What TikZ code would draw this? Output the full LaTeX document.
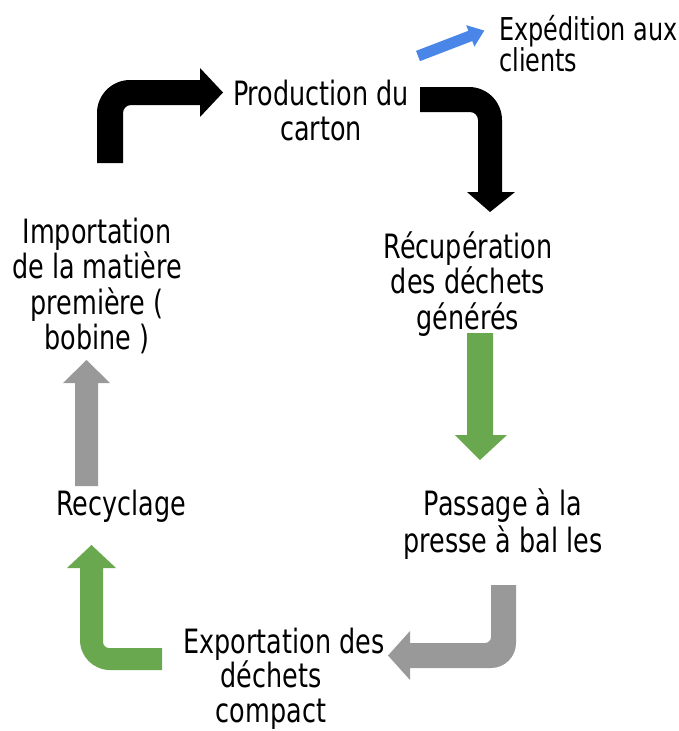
\documentclass[tikz,border=0pt]{standalone}
\usepackage{fontspec}
\setmainfont[FakeStretch=0.76]{DejaVu Sans}
\begin{document}
\begin{tikzpicture}[x=1pt,y=-1pt,
  lbl/.style={inner sep=0pt,anchor=north,align=center,
    font=\fontsize{33.5}{35.5}\selectfont},
  blackarrow/.style={fill=black},
  greenarrow/.style={fill=arrowgreen},
  greyarrow/.style={fill=arrowgrey},
  bluearrow/.style={fill=arrowblue}]
\definecolor{arrowgreen}{HTML}{6AA84F}
\definecolor{arrowgrey}{HTML}{999999}
\definecolor{arrowblue}{HTML}{4A86E8}
\newcommand{\firstline}{\rule{0pt}{28pt}}
\useasboundingbox (0,0) rectangle (678,731);

% labels of the cycle
\node[lbl] (prod) at (321,77) {\firstline Production du\\carton};
\node[lbl,anchor=north west,align=left,font=\fontsize{31.5}{29.5}\selectfont]
  (exped) at (499,12) {\firstline Expédition aux\\clients};
\node[lbl] (recup) at (468,230) {\firstline Récupération\\des déchets\\générés};
\node[lbl,font=\fontsize{33.5}{37}\selectfont] (presse) at (503,487) {\firstline Passage à la\\presse à bal les};
\node[lbl,font=\fontsize{33.5}{34.5}\selectfont] (export) at (271,625) {\firstline\hspace*{26pt}Exportation des\\déchets\\compact};
\node[lbl] (recyc) at (121,487) {\firstline Recyclage};
\node[lbl] (import) at (97,215) {\firstline Importation\\de la matière\\première (\\bobine )};

% bent arrow: raw material -> production
\fill[blackarrow] (97,163) -- (97,113) .. controls (97,94.8) and (111.8,80) .. (130,80)
  -- (200,80) -- (200,68) -- (223,92.5) -- (200,117) -- (200,105) -- (131,105)
  .. controls (126.6,105) and (123,108.6) .. (123,113) -- (123,163) -- cycle;

% bent arrow: production -> waste recovery
\fill[blackarrow] (420,87) -- (469,87) .. controls (487.2,87) and (502,101.8) .. (502,120)
  -- (502,192) -- (515,192) -- (490,212) -- (467,192) -- (478,192) -- (478,120)
  .. controls (478,115.6) and (474.4,112) .. (470,112) -- (420,112) -- cycle;

% shipping arrow
\begin{scope}[shift={(418,56)},rotate=21]
  \fill[bluearrow] (0,-5.5) -- (56,-5.5) -- (56,-11.5) -- (71,0) -- (56,11.5)
    -- (56,5.5) -- (0,5.5) -- cycle;
\end{scope}

% waste recovery -> baling press
\fill[greenarrow] (467,333) -- (493,333) -- (493,435) -- (507,435) -- (480,460)
  -- (455,435) -- (467,435) -- cycle;

% baling press -> export
\fill[greyarrow] (491,585) -- (516,585) -- (516,643) .. controls (516,656.8) and (504.8,668) .. (491,668)
  -- (410,668) -- (410,680) -- (388,655.5) -- (410,631) -- (410,643) -- (485,643)
  .. controls (488.3,643) and (491,640.3) .. (491,637) -- cycle;

% export -> recycling
\fill[greenarrow] (162,670) -- (110,670) .. controls (93.4,670) and (80,656.6) .. (80,640)
  -- (80,568) -- (67,568) -- (91.5,545) -- (116,568) -- (103,568) -- (103,642)
  .. controls (103,645.3) and (105.7,648) .. (109,648) -- (162,648) -- cycle;

% recycling -> raw material
\fill[greyarrow] (75,486) -- (75,383) -- (63,383) -- (86.5,360) -- (110,383)
  -- (98,383) -- (98,486) -- cycle;
\end{tikzpicture}
\end{document}
